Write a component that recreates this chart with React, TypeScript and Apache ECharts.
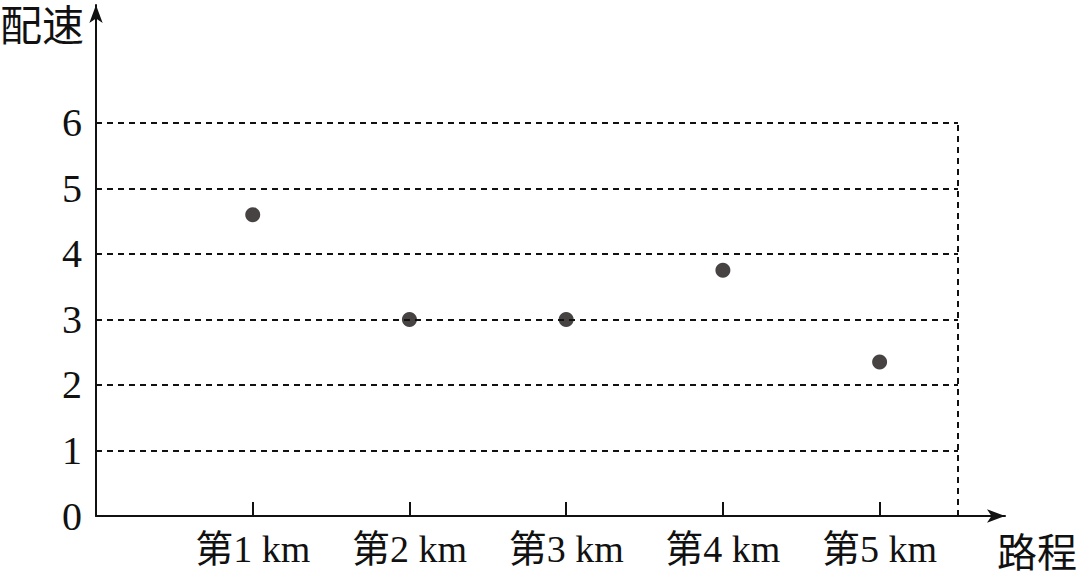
import { useEffect, useRef } from 'react';
import * as echarts from 'echarts';

const kmLabels = ['第1 km', '第2 km', '第3 km', '第4 km', '第5 km'];
const paceValues = [4.6, 3.0, 3.0, 3.75, 2.35];
const yTicks = [1, 2, 3, 4, 5, 6];

const font = '"Liberation Serif", "Noto Sans CJK SC", serif';

export default function App() {
  const ref = useRef<HTMLDivElement>(null);

  useEffect(() => {
    document.body.style.margin = '0';
    if (!ref.current) return undefined;
    const chart = echarts.init(ref.current, null, { renderer: 'svg' });

    const dash = { color: '#111', type: [6, 5] as number[], width: 2 };

    const option = {
      animation: false,
      grid: { left: 96, right: 82, top: 5, bottom: 65 },
      xAxis: {
        type: 'value',
        min: 0,
        max: 5.8,
        interval: 1,
        name: '路程',
        nameLocation: 'end',
        nameGap: -8,
        nameTextStyle: { color: '#111', fontSize: 40, fontFamily: font, verticalAlign: 'top', align: 'left', padding: [18, 0, 0, 0] },
        axisLine: { lineStyle: { color: '#111', width: 2 }, symbol: ['none', 'arrow'], symbolSize: [10, 18] },
        axisTick: {
          show: true,
          inside: true,
          length: 14,
          lineStyle: { color: '#111', width: 2 },
          customValues: [1, 2, 3, 4, 5],
        },
        axisLabel: {
          color: '#111',
          fontSize: 38,
          fontFamily: font,
          margin: 14,
          customValues: [1, 2, 3, 4, 5],
          formatter: (v: number) => kmLabels[v - 1] ?? '',
        },
        splitLine: { show: false },
      },
      yAxis: {
        type: 'value',
        min: 0,
        max: 7.8,
        interval: 1,
        axisLine: { show: true, lineStyle: { color: '#111', width: 2 }, symbol: ['none', 'arrow'], symbolSize: [10, 18] },
        axisTick: { show: false },
        axisLabel: {
          color: '#111',
          fontSize: 40,
          fontFamily: font,
          margin: 14,
          customValues: [0, ...yTicks],
        },
        splitLine: { show: false },
      },
      graphic: [
        { type: 'text', left: 0, top: 6, style: { text: '配速', fontSize: 42, fontFamily: font, fill: '#111' } },
      ],
      series: [
        {
          type: 'scatter',
          data: paceValues.map((v, i) => [i + 1, v]),
          symbolSize: 15,
          itemStyle: { color: '#1a1414' },
          markLine: {
            silent: true,
            symbol: 'none',
            label: { show: false },
            lineStyle: dash,
            data: [
              ...yTicks.map((t) => [{ coord: [0, t] }, { coord: [5.5, t] }]),
              [{ coord: [5.5, 0] }, { coord: [5.5, 6] }],
            ],
          },
        },
      ],
    };

    chart.setOption(option);
    return () => chart.dispose();
  }, []);

  return <div ref={ref} style={{ width: 1087, height: 581 }} />;
}
